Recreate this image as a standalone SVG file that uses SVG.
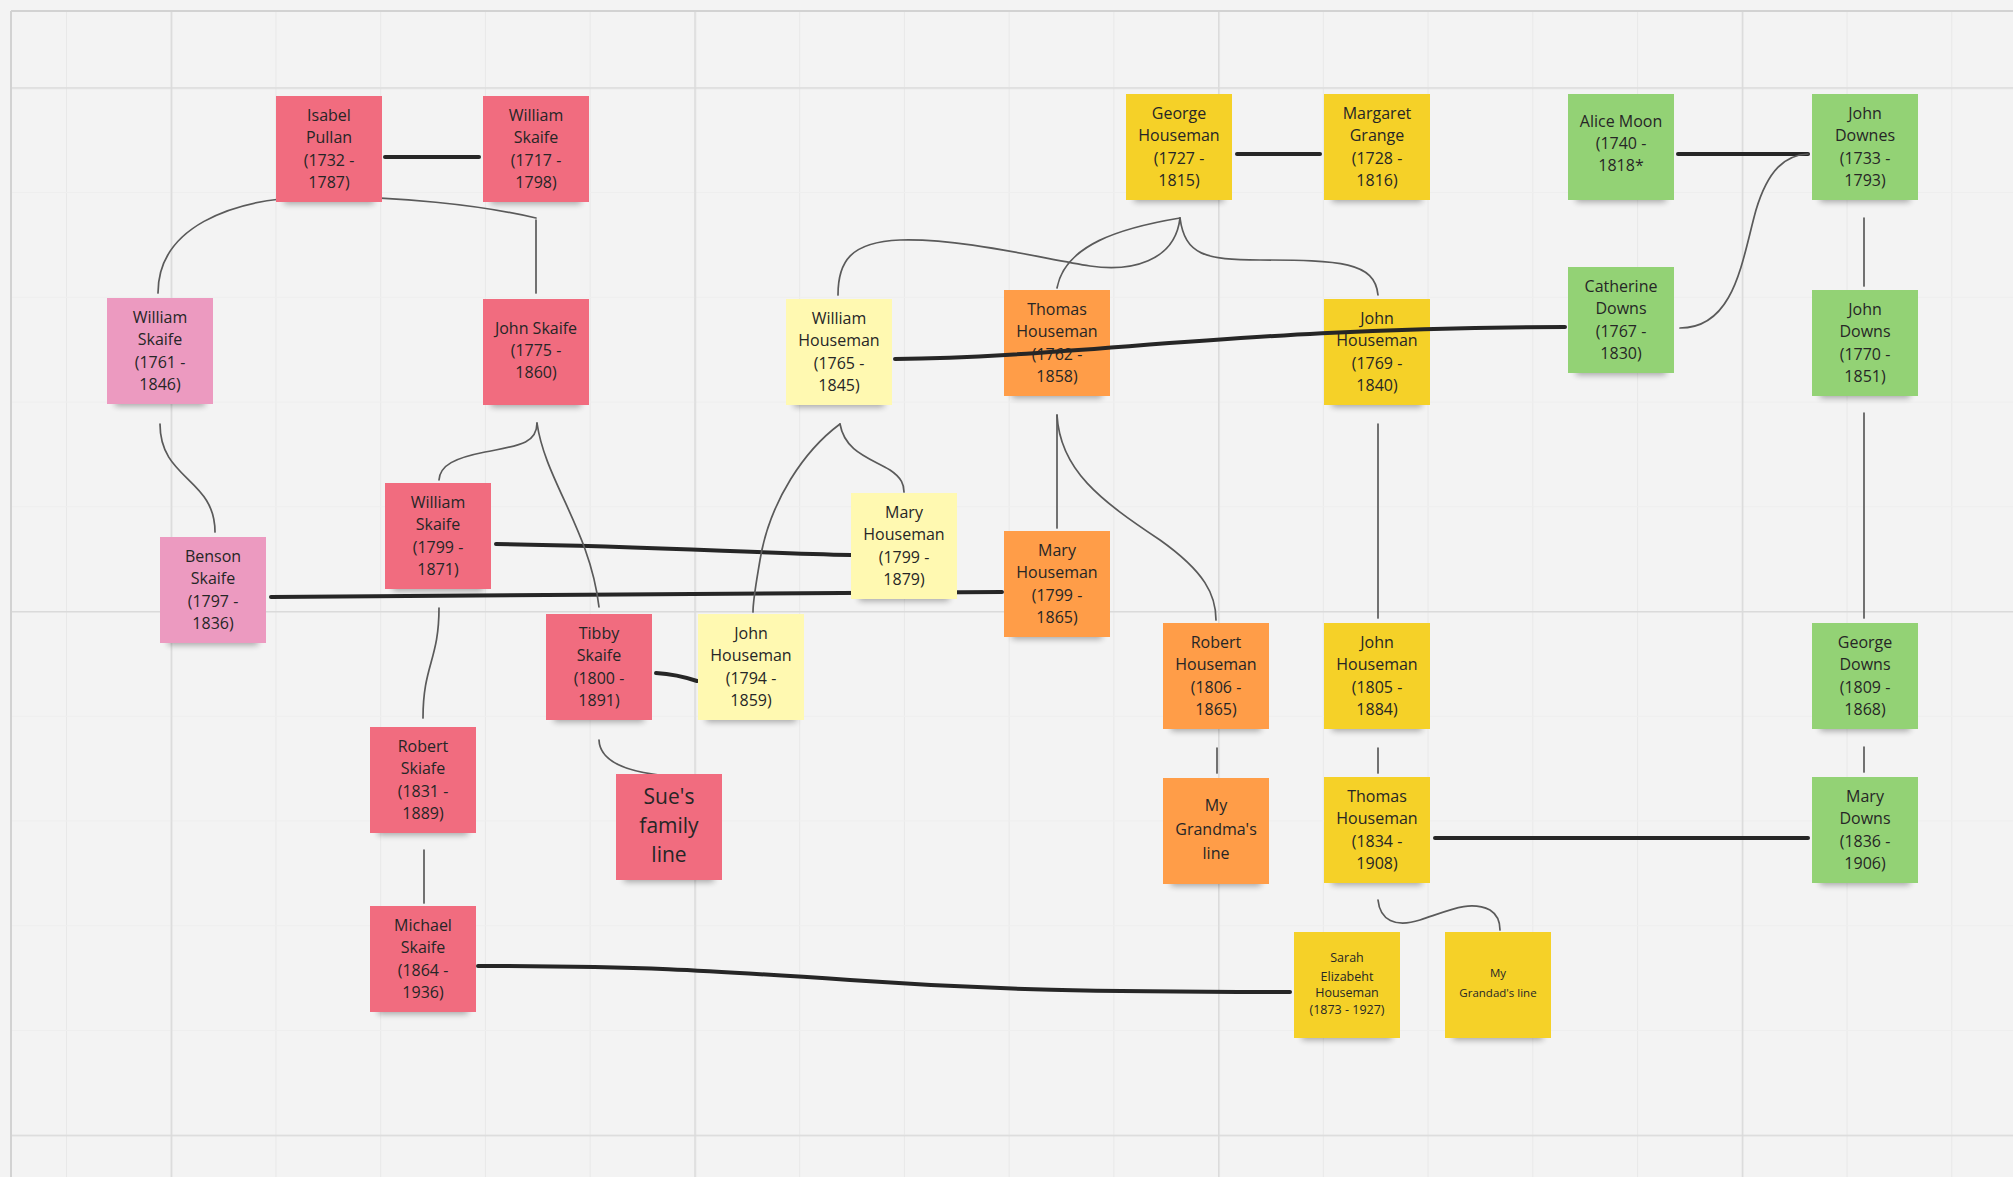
<svg xmlns="http://www.w3.org/2000/svg" width="2013" height="1177" viewBox="0 0 2013 1177">
<style>
  .bgc { fill: #F3F3F3; }
  .sh { fill: #000; opacity: 0.32; filter: url(#blur); }
  .note rect.card { stroke: none; }
  .red rect.card { fill: #F16C7F; }
  .pink rect.card { fill: #EC9AC0; }
  .lyel rect.card { fill: #FFF9B1; }
  .yel rect.card { fill: #F5D128; }
  .org rect.card { fill: #FF9D48; }
  .grn rect.card { fill: #93D275; }
  .note text { font-family: "Open Sans", "Liberation Sans", sans-serif; font-size: 16px; fill: #262626; text-anchor: middle; }
  .note text.big { font-size: 21px; }
  .note text.small { font-size: 12.5px; }
  .note text.tiny { font-size: 11.5px; }
  .thick { fill: none; stroke: #262626; stroke-width: 4; stroke-linecap: round; }
  .thin { fill: none; stroke: #5A5A5A; stroke-width: 1.7; stroke-linecap: round; }
</style>
<defs>
  <filter id="blur" x="-20%" y="-100%" width="140%" height="300%">
    <feGaussianBlur stdDeviation="3"/>
  </filter>
  <pattern id="gmin" patternUnits="userSpaceOnUse" x="170.7" y="87.3" width="104.74" height="104.74">
    <path d="M0.5,0 V104.74" stroke="#E8E8E8" stroke-width="1" fill="none"/>
    <path d="M0,0.5 H104.74" stroke="#EEEEEE" stroke-width="1" fill="none"/>
  </pattern>
  <pattern id="gmaj" patternUnits="userSpaceOnUse" x="170.7" y="87.3" width="523.7" height="523.7">
    <path d="M0.75,0 V523.7 M0,0.75 H523.7" stroke="#DADADA" stroke-width="1.5" fill="none"/>
  </pattern>
</defs>

<g id="background">
  <rect class="bgc" x="0" y="0" width="2013" height="1177"/>
  <rect x="11" y="11" width="2002" height="1166" fill="url(#gmin)"/>
  <rect x="11" y="11" width="2002" height="1166" fill="url(#gmaj)"/>
  <path d="M11,11 H2013 M11,11 V1177" stroke="#D2D2D2" stroke-width="2" fill="none"/>
</g>

<g id="connectors">
  <!-- couples -->
  <path class="thick" d="M385,157 L479,157"/>
  <path class="thick" d="M1237,154 L1320,154"/>
  <path class="thick" d="M1678,154 L1808,154"/>
  <path class="thick" d="M496,544 C650,546 750,553 851,555"/>
  <path class="thick" d="M271,597 C500,596 800,592 1002,592"/>
  <path class="thick" d="M656,673 C672,674 685,677 697,681"/>
  <path class="thick" d="M478,966 C640,966 700,970 850,980 C990,990 1100,992 1290,992"/>
  <path class="thick" d="M1435,838 L1808,838"/>
  <!-- descent -->
  <path class="thin" d="M158,293 C158,228 230,199 310,197 C400,196 480,205 536,218"/>
  <path class="thin" d="M536,220 L536,293"/>
  <path class="thin" d="M160,424 C160,480 215,478 215,532"/>
  <path class="thin" d="M537,423 C537,445 515,446 485,452 C455,458 440,465 439,480"/>
  <path class="thin" d="M537,423 C545,480 590,530 599,607"/>
  <path class="thin" d="M439,608 C439,660 423,665 423,718"/>
  <path class="thin" d="M424,850 L424,903"/>
  <path class="thin" d="M599,740 C600,765 635,773 668,776"/>
  <path class="thin" d="M1180,218 C1175,262 1130,272 1090,266 C1040,258 960,238 900,240 C850,242 838,262 838,295"/>
  <path class="thin" d="M1180,218 C1120,228 1065,245 1057,288"/>
  <path class="thin" d="M1180,218 C1185,255 1205,260 1260,260 C1340,260 1375,262 1378,295"/>
  <path class="thin" d="M840,424 C805,450 770,500 760,560 C755,590 753,600 753,612"/>
  <path class="thin" d="M840,424 C845,452 870,458 890,470 C902,478 904,485 904,492"/>
  <path class="thin" d="M1057,415 L1057,528"/>
  <path class="thin" d="M1057,415 C1060,470 1100,500 1160,540 C1205,572 1216,595 1216,620"/>
  <path class="thin" d="M1378,424 L1378,618"/>
  <path class="thin" d="M1217,748 L1217,773"/>
  <path class="thin" d="M1378,748 L1378,773"/>
  <path class="thin" d="M1378,900 C1380,920 1395,928 1420,920 C1450,910 1470,900 1490,910 C1498,915 1500,922 1500,930"/>
  <path class="thin" d="M1864,218 L1864,286"/>
  <path class="thin" d="M1864,413 L1864,618"/>
  <path class="thin" d="M1864,747 L1864,772"/>
  <path class="thin" d="M1680,328 C1735,328 1742,260 1756,210 C1768,170 1785,155 1808,154"/>
</g>

<g id="n-isabel-pullan" class="note red" transform="translate(276,96)">
  <rect class="sh" x="8" y="98" width="90" height="10"/><rect class="card" width="106" height="106"/>
  <text><tspan x="53" y="25">Isabel</tspan><tspan x="53" y="47">Pullan</tspan><tspan x="53" y="70">(1732 -</tspan><tspan x="53" y="92">1787)</tspan></text>
</g>
<g id="n-william-skaife-1717" class="note red" transform="translate(483,96)">
  <rect class="sh" x="8" y="98" width="90" height="10"/><rect class="card" width="106" height="106"/>
  <text><tspan x="53" y="25">William</tspan><tspan x="53" y="47">Skaife</tspan><tspan x="53" y="70">(1717 -</tspan><tspan x="53" y="92">1798)</tspan></text>
</g>
<g id="n-george-houseman" class="note yel" transform="translate(1126,94)">
  <rect class="sh" x="8" y="98" width="90" height="10"/><rect class="card" width="106" height="106"/>
  <text><tspan x="53" y="25">George</tspan><tspan x="53" y="47">Houseman</tspan><tspan x="53" y="70">(1727 -</tspan><tspan x="53" y="92">1815)</tspan></text>
</g>
<g id="n-margaret-grange" class="note yel" transform="translate(1324,94)">
  <rect class="sh" x="8" y="98" width="90" height="10"/><rect class="card" width="106" height="106"/>
  <text><tspan x="53" y="25">Margaret</tspan><tspan x="53" y="47">Grange</tspan><tspan x="53" y="70">(1728 -</tspan><tspan x="53" y="92">1816)</tspan></text>
</g>
<g id="n-alice-moon" class="note grn" transform="translate(1568,94)">
  <rect class="sh" x="8" y="98" width="90" height="10"/><rect class="card" width="106" height="106"/>
  <text><tspan x="53" y="33">Alice Moon</tspan><tspan x="53" y="55">(1740 -</tspan><tspan x="53" y="77">1818*</tspan></text>
</g>
<g id="n-john-downes" class="note grn" transform="translate(1812,94)">
  <rect class="sh" x="8" y="98" width="90" height="10"/><rect class="card" width="106" height="106"/>
  <text><tspan x="53" y="25">John</tspan><tspan x="53" y="47">Downes</tspan><tspan x="53" y="70">(1733 -</tspan><tspan x="53" y="92">1793)</tspan></text>
</g>
<g id="n-william-skaife-1761" class="note pink" transform="translate(107,298)">
  <rect class="sh" x="8" y="98" width="90" height="10"/><rect class="card" width="106" height="106"/>
  <text><tspan x="53" y="25">William</tspan><tspan x="53" y="47">Skaife</tspan><tspan x="53" y="70">(1761 -</tspan><tspan x="53" y="92">1846)</tspan></text>
</g>
<g id="n-john-skaife" class="note red" transform="translate(483,299)">
  <rect class="sh" x="8" y="98" width="90" height="10"/><rect class="card" width="106" height="106"/>
  <text><tspan x="53" y="35">John Skaife</tspan><tspan x="53" y="57">(1775 -</tspan><tspan x="53" y="79">1860)</tspan></text>
</g>
<g id="n-william-houseman" class="note lyel" transform="translate(786,299)">
  <rect class="sh" x="8" y="98" width="90" height="10"/><rect class="card" width="106" height="106"/>
  <text><tspan x="53" y="25">William</tspan><tspan x="53" y="47">Houseman</tspan><tspan x="53" y="70">(1765 -</tspan><tspan x="53" y="92">1845)</tspan></text>
</g>
<g id="n-thomas-houseman-1762" class="note org" transform="translate(1004,290)">
  <rect class="sh" x="8" y="98" width="90" height="10"/><rect class="card" width="106" height="106"/>
  <text><tspan x="53" y="25">Thomas</tspan><tspan x="53" y="47">Houseman</tspan><tspan x="53" y="70">(1762 -</tspan><tspan x="53" y="92">1858)</tspan></text>
</g>
<g id="n-john-houseman-1769" class="note yel" transform="translate(1324,299)">
  <rect class="sh" x="8" y="98" width="90" height="10"/><rect class="card" width="106" height="106"/>
  <text><tspan x="53" y="25">John</tspan><tspan x="53" y="47">Houseman</tspan><tspan x="53" y="70">(1769 -</tspan><tspan x="53" y="92">1840)</tspan></text>
</g>
<g id="n-catherine-downs" class="note grn" transform="translate(1568,267)">
  <rect class="sh" x="8" y="98" width="90" height="10"/><rect class="card" width="106" height="106"/>
  <text><tspan x="53" y="25">Catherine</tspan><tspan x="53" y="47">Downs</tspan><tspan x="53" y="70">(1767 -</tspan><tspan x="53" y="92">1830)</tspan></text>
</g>
<g id="n-john-downs-1770" class="note grn" transform="translate(1812,290)">
  <rect class="sh" x="8" y="98" width="90" height="10"/><rect class="card" width="106" height="106"/>
  <text><tspan x="53" y="25">John</tspan><tspan x="53" y="47">Downs</tspan><tspan x="53" y="70">(1770 -</tspan><tspan x="53" y="92">1851)</tspan></text>
</g>
<g id="n-william-skaife-1799" class="note red" transform="translate(385,483)">
  <rect class="sh" x="8" y="98" width="90" height="10"/><rect class="card" width="106" height="106"/>
  <text><tspan x="53" y="25">William</tspan><tspan x="53" y="47">Skaife</tspan><tspan x="53" y="70">(1799 -</tspan><tspan x="53" y="92">1871)</tspan></text>
</g>
<g id="n-mary-houseman-1879" class="note lyel" transform="translate(851,493)">
  <rect class="sh" x="8" y="98" width="90" height="10"/><rect class="card" width="106" height="106"/>
  <text><tspan x="53" y="25">Mary</tspan><tspan x="53" y="47">Houseman</tspan><tspan x="53" y="70">(1799 -</tspan><tspan x="53" y="92">1879)</tspan></text>
</g>
<g id="n-mary-houseman-1865" class="note org" transform="translate(1004,531)">
  <rect class="sh" x="8" y="98" width="90" height="10"/><rect class="card" width="106" height="106"/>
  <text><tspan x="53" y="25">Mary</tspan><tspan x="53" y="47">Houseman</tspan><tspan x="53" y="70">(1799 -</tspan><tspan x="53" y="92">1865)</tspan></text>
</g>
<g id="n-benson-skaife" class="note pink" transform="translate(160,537)">
  <rect class="sh" x="8" y="98" width="90" height="10"/><rect class="card" width="106" height="106"/>
  <text><tspan x="53" y="25">Benson</tspan><tspan x="53" y="47">Skaife</tspan><tspan x="53" y="70">(1797 -</tspan><tspan x="53" y="92">1836)</tspan></text>
</g>
<g id="n-tibby-skaife" class="note red" transform="translate(546,614)">
  <rect class="sh" x="8" y="98" width="90" height="10"/><rect class="card" width="106" height="106"/>
  <text><tspan x="53" y="25">Tibby</tspan><tspan x="53" y="47">Skaife</tspan><tspan x="53" y="70">(1800 -</tspan><tspan x="53" y="92">1891)</tspan></text>
</g>
<g id="n-john-houseman-1794" class="note lyel" transform="translate(698,614)">
  <rect class="sh" x="8" y="98" width="90" height="10"/><rect class="card" width="106" height="106"/>
  <text><tspan x="53" y="25">John</tspan><tspan x="53" y="47">Houseman</tspan><tspan x="53" y="70">(1794 -</tspan><tspan x="53" y="92">1859)</tspan></text>
</g>
<g id="n-robert-houseman" class="note org" transform="translate(1163,623)">
  <rect class="sh" x="8" y="98" width="90" height="10"/><rect class="card" width="106" height="106"/>
  <text><tspan x="53" y="25">Robert</tspan><tspan x="53" y="47">Houseman</tspan><tspan x="53" y="70">(1806 -</tspan><tspan x="53" y="92">1865)</tspan></text>
</g>
<g id="n-john-houseman-1805" class="note yel" transform="translate(1324,623)">
  <rect class="sh" x="8" y="98" width="90" height="10"/><rect class="card" width="106" height="106"/>
  <text><tspan x="53" y="25">John</tspan><tspan x="53" y="47">Houseman</tspan><tspan x="53" y="70">(1805 -</tspan><tspan x="53" y="92">1884)</tspan></text>
</g>
<g id="n-george-downs" class="note grn" transform="translate(1812,623)">
  <rect class="sh" x="8" y="98" width="90" height="10"/><rect class="card" width="106" height="106"/>
  <text><tspan x="53" y="25">George</tspan><tspan x="53" y="47">Downs</tspan><tspan x="53" y="70">(1809 -</tspan><tspan x="53" y="92">1868)</tspan></text>
</g>
<g id="n-robert-skiafe" class="note red" transform="translate(370,727)">
  <rect class="sh" x="8" y="98" width="90" height="10"/><rect class="card" width="106" height="106"/>
  <text><tspan x="53" y="25">Robert</tspan><tspan x="53" y="47">Skiafe</tspan><tspan x="53" y="70">(1831 -</tspan><tspan x="53" y="92">1889)</tspan></text>
</g>
<g id="n-sues-family-line" class="note red" transform="translate(616,774)">
  <rect class="sh" x="8" y="98" width="90" height="10"/><rect class="card" width="106" height="106"/>
  <text class="big"><tspan x="53" y="30">Sue's</tspan><tspan x="53" y="59">family</tspan><tspan x="53" y="88">line</tspan></text>
</g>
<g id="n-my-grandmas-line" class="note org" transform="translate(1163,778)">
  <rect class="sh" x="8" y="98" width="90" height="10"/><rect class="card" width="106" height="106"/>
  <text><tspan x="53" y="33">My</tspan><tspan x="53" y="57">Grandma's</tspan><tspan x="53" y="81">line</tspan></text>
</g>
<g id="n-thomas-houseman-1834" class="note yel" transform="translate(1324,777)">
  <rect class="sh" x="8" y="98" width="90" height="10"/><rect class="card" width="106" height="106"/>
  <text><tspan x="53" y="25">Thomas</tspan><tspan x="53" y="47">Houseman</tspan><tspan x="53" y="70">(1834 -</tspan><tspan x="53" y="92">1908)</tspan></text>
</g>
<g id="n-mary-downs" class="note grn" transform="translate(1812,777)">
  <rect class="sh" x="8" y="98" width="90" height="10"/><rect class="card" width="106" height="106"/>
  <text><tspan x="53" y="25">Mary</tspan><tspan x="53" y="47">Downs</tspan><tspan x="53" y="70">(1836 -</tspan><tspan x="53" y="92">1906)</tspan></text>
</g>
<g id="n-michael-skaife" class="note red" transform="translate(370,906)">
  <rect class="sh" x="8" y="98" width="90" height="10"/><rect class="card" width="106" height="106"/>
  <text><tspan x="53" y="25">Michael</tspan><tspan x="53" y="47">Skaife</tspan><tspan x="53" y="70">(1864 -</tspan><tspan x="53" y="92">1936)</tspan></text>
</g>
<g id="n-sarah-elizabeht-houseman" class="note yel" transform="translate(1294,932)">
  <rect class="sh" x="8" y="98" width="90" height="10"/><rect class="card" width="106" height="106"/>
  <text class="small"><tspan x="53" y="30">Sarah</tspan><tspan x="53" y="49">Elizabeht</tspan><tspan x="53" y="65">Houseman</tspan><tspan x="53" y="82">(1873 - 1927)</tspan></text>
</g>
<g id="n-my-grandads-line" class="note yel" transform="translate(1445,932)">
  <rect class="sh" x="8" y="98" width="90" height="10"/><rect class="card" width="106" height="106"/>
  <text class="tiny"><tspan x="53" y="45">My</tspan><tspan x="53" y="65">Grandad's line</tspan></text>
</g>

<g id="connectors-over">
  <path class="thick" d="M895,359 C1080,357 1250,327 1565,327"/>
</g>
</svg>
